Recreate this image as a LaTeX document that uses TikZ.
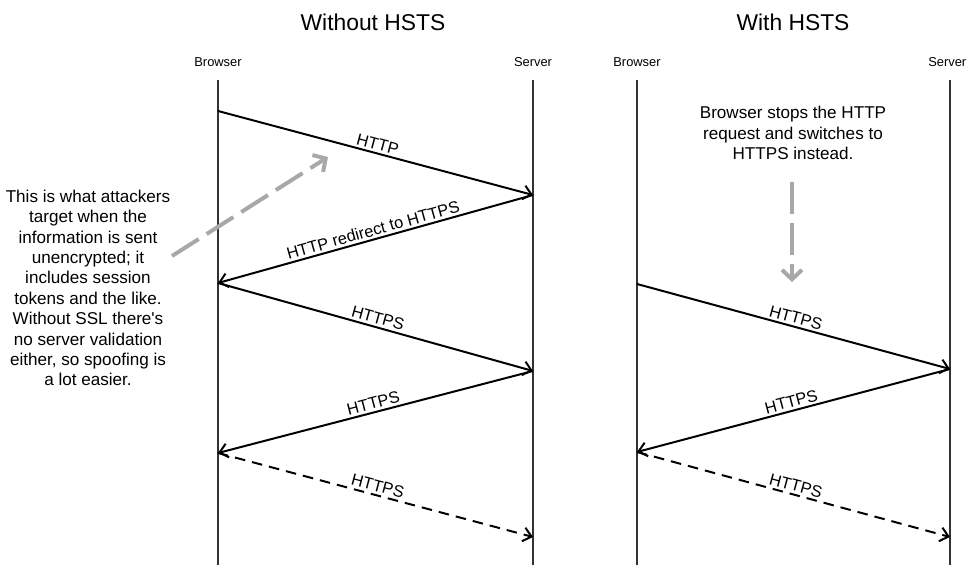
\documentclass[tikz,border=0pt]{standalone}
\usepackage{fontspec}
\setmainfont{Liberation Sans}
\usetikzlibrary{arrows.meta, positioning}
\definecolor{cLine}{RGB}{50,50,50}
\definecolor{cHint}{RGB}{168,168,168}

\begin{document}
\begin{tikzpicture}[x=0.03cm, y=-0.03cm, line width=1.3pt,
    msg/.style={-{Straight Barb[length=7pt,width=12pt]}, black, line width=1.7pt},
    life/.style={cLine, line width=2.3pt},
    hint/.style={cHint, line width=3.4pt, dash pattern=on 27pt off 8pt,
      -{Straight Barb[length=8pt,width=17pt]}},
    actor/.style={font=\fontsize{11}{13}\selectfont},
    lbl/.style={font=\fontsize{14}{16}\selectfont, midway, above=1pt, sloped, inner sep=1pt},
    title/.style={font=\fontsize{19.5}{23}\selectfont},
    note/.style={font=\fontsize{14.6}{17.4}\selectfont, align=center}]
    \useasboundingbox (0,0) rectangle (967,565);
    \def\Top{80}  % lifeline start
    \def\Bot{565} % lifeline end

    % ---------- without HSTS ----------
    \node[title] (t1) at (373,22) {Without HSTS};
    \node[actor] (b1) at (218,62) {Browser};
    \node[actor] (s1) at (533,62) {Server};
    \draw[life] (b1 |- 0,\Top) -- (b1 |- 0,\Bot);
    \draw[life] (s1 |- 0,\Top) -- (s1 |- 0,\Bot);
    \coordinate (b1a) at (218,111);
    \coordinate (s1a) at (533,195);
    \coordinate (b1b) at (218,283);
    \coordinate (s1b) at (533,371);
    \coordinate (b1c) at (218,453);
    \coordinate (s1c) at (533,537);
    \draw[msg] (b1a) -- node[lbl] {HTTP} (s1a);
    \draw[msg] (s1a) -- node[lbl] {HTTP redirect to HTTPS} (b1b);
    \draw[msg] (b1b) -- node[lbl] {HTTPS} (s1b);
    \draw[msg] (s1b) -- node[lbl] {HTTPS} (b1c);
    \draw[msg, dashed, dash pattern=on 9pt off 6pt] (b1c) -- node[lbl] {HTTPS} (s1c);

    % ---------- attacker note ----------
    \node[note] (n1) at (88,288) {This is what attackers\\target when the\\information is sent\\
      unencrypted; it\\includes session\\tokens and the like.\\Without SSL there\textquotesingle s\\
      no server validation\\either, so spoofing is\\a lot easier.};
    \coordinate (h1s) at (172,256);
    \coordinate (h1e) at (328,157);
    \draw[hint] (h1s) -- (h1e);

    % ---------- with HSTS ----------
    \node[title] (t2) at (793,22) {With HSTS};
    \node[actor] (b2) at (637,62) {Browser};
    \node[actor, anchor=east, inner sep=0pt] (s2) at (967,62) {Server};
    \coordinate (s2x) at (950,0); % server lifeline
    \draw[life] (b2 |- 0,\Top) -- (b2 |- 0,\Bot);
    \draw[life] (s2x |- 0,\Top) -- (s2x |- 0,\Bot);
    \coordinate (b2a) at (637,284);
    \coordinate (s2a) at (950,369);
    \coordinate (b2b) at (637,452);
    \coordinate (s2b) at (950,537);
    \draw[msg] (b2a) -- node[lbl] {HTTPS} (s2a);
    \draw[msg] (s2a) -- node[lbl] {HTTPS} (b2b);
    \draw[msg, dashed, dash pattern=on 9pt off 6pt] (b2b) -- node[lbl] {HTTPS} (s2b);

    % ---------- browser note ----------
    \node[note] (n2) at (793,133) {Browser stops the HTTP\\request and switches to\\HTTPS instead.};
    \coordinate (h2s) at (792,182);
    \coordinate (h2e) at (792,282);
    \draw[hint] (h2s) -- (h2e);

\end{tikzpicture}
\end{document}
